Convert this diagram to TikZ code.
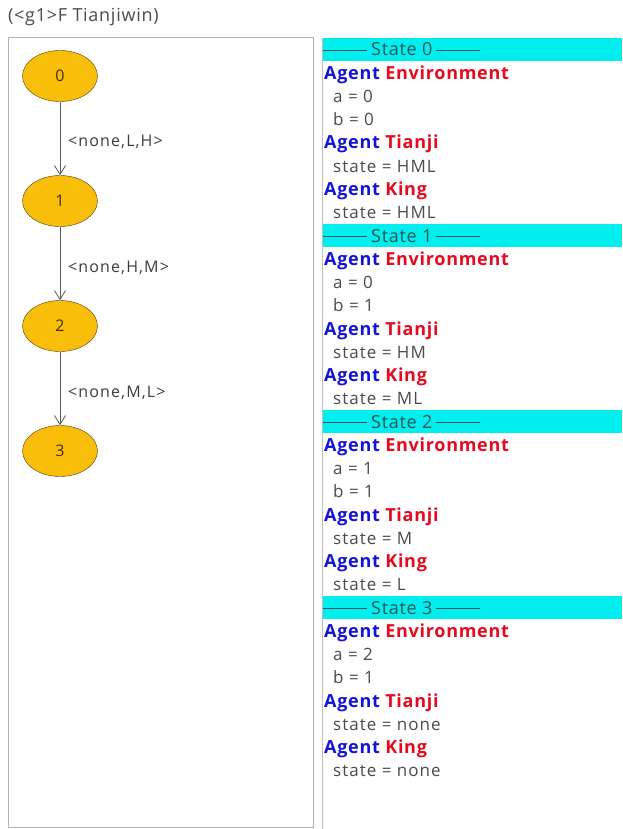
\documentclass[tikz,border=0pt]{standalone}
\usepackage{fontspec}
\setmainfont{Open Sans}
\usetikzlibrary{arrows.meta,shapes.geometric}
\definecolor{nodefill}{RGB}{248,190,10}
\definecolor{nodeborder}{RGB}{80,60,20}
\definecolor{nodetext}{RGB}{70,45,5}
\definecolor{agentblue}{RGB}{20,20,215}
\definecolor{namered}{RGB}{230,10,30}
\definecolor{valgrey}{RGB}{75,75,75}
\definecolor{hdrtext}{RGB}{40,85,85}
\definecolor{barcyan}{RGB}{0,238,238}
\definecolor{panelborder}{RGB}{170,178,195}
\definecolor{edgegrey}{RGB}{90,90,90}
\tikzset{
  stnode/.style={ellipse, draw=nodeborder, fill=nodefill, minimum width=75pt, minimum height=51pt, inner sep=0pt, font=\fontsize{16}{16}\selectfont, text=nodetext},
  edgelab/.style={anchor=base west, font=\fontsize{16}{17}\selectfont\addfontfeature{LetterSpace=7}, text=valgrey!80!black, inner sep=0pt},
  conn/.style={draw=edgegrey, line width=0.9pt, -{Straight Barb[length=9pt,width=11pt,line width=0.8pt]}},
  hdr/.style={anchor=base west, font=\fontsize{18}{19}\selectfont\addfontfeature{LetterSpace=4}, text=hdrtext, inner sep=0pt},
  agent/.style={anchor=base west, font=\fontsize{18}{19}\selectfont\bfseries\addfontfeature{LetterSpace=4}, inner sep=0pt},
  val/.style={anchor=base west, font=\fontsize{17}{18}\selectfont\addfontfeature{LetterSpace=6}, text=valgrey, inner sep=0pt},
  bar/.style={fill=barcyan, draw=none}
}
\newcommand{\hdrrule}{\textcolor{hdrtext}{\rule[0.3em]{44pt}{0.8pt}}}
\newcommand{\agentline}[1]{\textcolor{agentblue}{Agent} \textcolor{namered}{#1}}
\begin{document}
\begin{tikzpicture}[x=1pt,y=-1pt]
\useasboundingbox[fill=white] (0,0) rectangle (622,829);
% title
\node[anchor=base west, inner sep=0pt, font=\fontsize{18}{19}\selectfont\addfontfeature{LetterSpace=4}, text=valgrey] (title) at (8,22) {(<g1>F Tianjiwin)};
% left panel
\draw[panelborder, line width=1pt] (8,38) rectangle (313.5,827);
% right panel border
\draw[black!25, line width=1pt] (322.5,38) -- (322.5,829);
% graph nodes
\node[stnode] (n0) at (60,76) {0};
\node[stnode] (n1) at (60,201) {1};
\node[stnode] (n2) at (60,326) {2};
\node[stnode] (n3) at (60,451) {3};
\draw[conn] (n0) -- (n1);
\draw[conn] (n1) -- (n2);
\draw[conn] (n2) -- (n3);
\node[edgelab] (l0) at (68,146.5) {<none,L,H>};
\node[edgelab] (l1) at (68,272) {<none,H,M>};
\node[edgelab] (l2) at (68,397.5) {<none,M,L>};
% state bars
\foreach \s/\y in {0/56, 1/242, 2/428, 3/614}{
  \fill[bar] (323,\y-18) rectangle (622,\y+5);
  \node[hdr] (h\s) at (323,\y) {\hdrrule\hspace{4pt}State \s\hspace{4pt}\hdrrule};
}
% state 0
\node[agent] (e0) at (324,79.25) {\agentline{Environment}};
\node[val] (a0) at (333,102.5) {a = 0};
\node[val] (b0) at (333,125.75) {b = 0};
\node[agent] (t0) at (324,149) {\agentline{Tianji}};
\node[val] (ts0) at (333,172.25) {state = HML};
\node[agent] (k0) at (324,195.5) {\agentline{King}};
\node[val] (ks0) at (333,218.75) {state = HML};
% state 1
\node[agent] (e1) at (324,265.25) {\agentline{Environment}};
\node[val] (a1) at (333,288.5) {a = 0};
\node[val] (b1) at (333,311.75) {b = 1};
\node[agent] (t1) at (324,335) {\agentline{Tianji}};
\node[val] (ts1) at (333,358.25) {state = HM};
\node[agent] (k1) at (324,381.5) {\agentline{King}};
\node[val] (ks1) at (333,404.75) {state = ML};
% state 2
\node[agent] (e2) at (324,451.25) {\agentline{Environment}};
\node[val] (a2) at (333,474.5) {a = 1};
\node[val] (b2) at (333,497.75) {b = 1};
\node[agent] (t2) at (324,521) {\agentline{Tianji}};
\node[val] (ts2) at (333,544.25) {state = M};
\node[agent] (k2) at (324,567.5) {\agentline{King}};
\node[val] (ks2) at (333,590.75) {state = L};
% state 3
\node[agent] (e3) at (324,637.25) {\agentline{Environment}};
\node[val] (a3) at (333,660.5) {a = 2};
\node[val] (b3) at (333,683.75) {b = 1};
\node[agent] (t3) at (324,707) {\agentline{Tianji}};
\node[val] (ts3) at (333,730.25) {state = none};
\node[agent] (k3) at (324,753.5) {\agentline{King}};
\node[val] (ks3) at (333,776.75) {state = none};
\end{tikzpicture}
\end{document}
